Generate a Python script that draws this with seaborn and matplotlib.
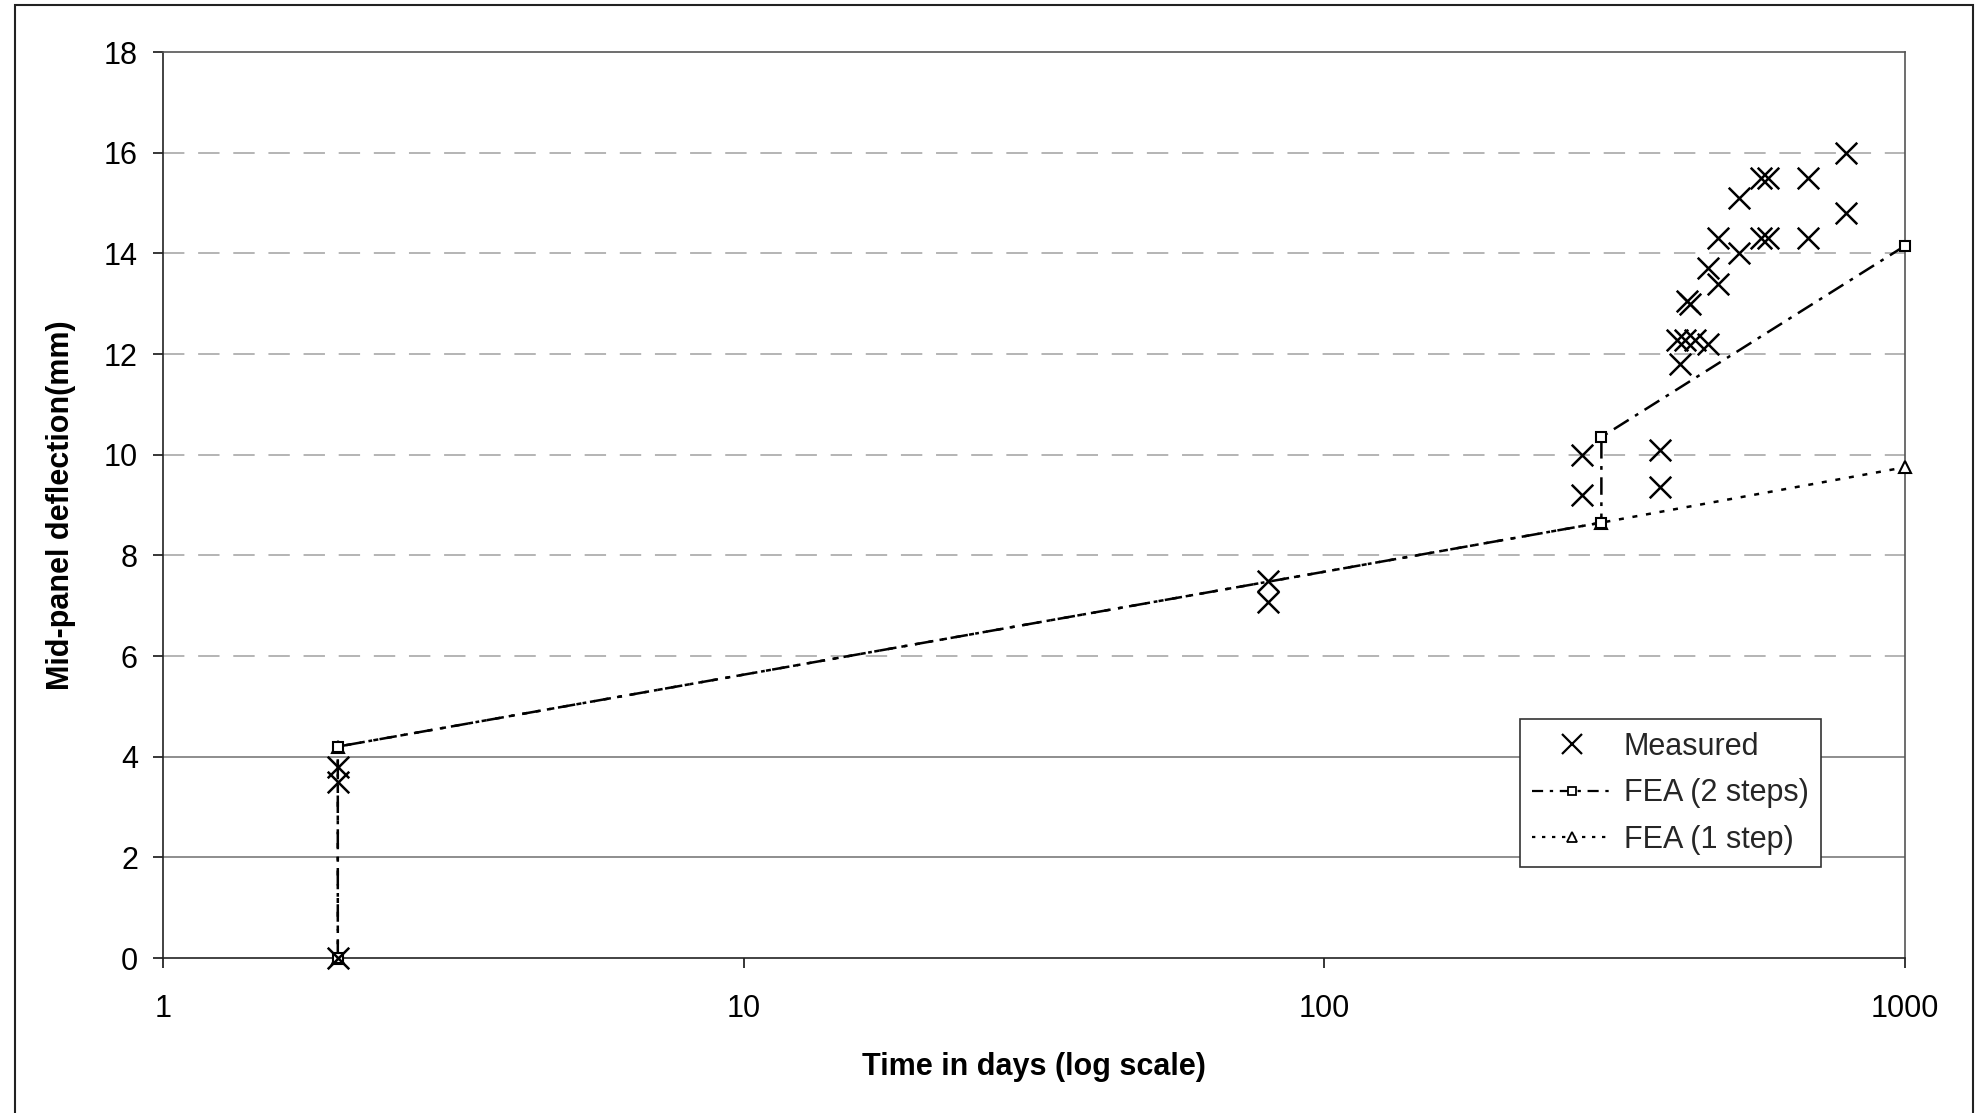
import matplotlib
matplotlib.use("Agg")
import matplotlib.pyplot as plt
from matplotlib.patches import Rectangle
from matplotlib.lines import Line2D
import seaborn as sns
import pandas as pd

# Measured mid-panel deflection (days, mm)
measured_days = [2, 2, 2, 80, 80, 278, 278, 378, 378,
                 405, 409, 418, 435, 458, 421, 427, 458, 476, 476,
                 517, 517, 565, 580, 565, 580, 680, 680, 790, 790]
measured_mm = [0.0, 3.5, 3.8, 7.5, 7.07, 10.0, 9.2, 10.1, 9.35,
               12.27, 11.8, 12.27, 12.27, 12.2, 13.06, 13.0, 13.7, 13.4, 14.3,
               15.1, 14.0, 15.5, 15.5, 14.3, 14.3, 15.5, 14.3, 16.0, 14.8]

# FEA predictions
fea2_days = [2, 2, 300, 300, 1000]
fea2_mm = [0.0, 4.2, 8.65, 10.35, 14.15]
fea1_days = [2, 2, 300, 1000]
fea1_mm = [0.0, 4.2, 8.65, 9.75]

y_ticks = [0, 2, 4, 6, 8, 10, 12, 14, 16, 18]
x_ticks = [1, 10, 100, 1000]
x_tick_labels = ["1", "10", "100", "1000"]

sns.set_theme(style="white")
plt.rcParams["font.family"] = ["Liberation Sans", "DejaVu Sans"]

fig = plt.figure(figsize=(19.78, 11.13), dpi=100)
ax = fig.add_axes([163 / 1978, 1 - 958 / 1113, (1905 - 163) / 1978, (958 - 52) / 1113])

# horizontal gridlines
for yv in y_ticks[1:-1]:
    if yv <= 4:
        ax.axhline(yv, color="#7a7a7a", lw=1.2, zorder=0)
    else:
        ax.axhline(yv, color="#a0a0a0", lw=1.1, ls=(0, (14, 9)), zorder=0)

df_meas = pd.DataFrame({"days": measured_days, "mm": measured_mm})
df_fea2 = pd.DataFrame({"days": fea2_days, "mm": fea2_mm})
df_fea1 = pd.DataFrame({"days": fea1_days, "mm": fea1_mm})

sns.lineplot(data=df_fea1, x="days", y="mm", ax=ax, sort=False, estimator=None,
             color="black", lw=1.8, linestyle=(0, (2, 3.5)), marker="^",
             markersize=8, markerfacecolor="white", markeredgecolor="black",
             markeredgewidth=1.5, zorder=3, clip_on=False)
sns.lineplot(data=df_fea2, x="days", y="mm", ax=ax, sort=False, estimator=None,
             color="black", lw=1.8, linestyle=(0, (7, 3, 1.5, 3)), marker="s",
             markersize=7, markerfacecolor="white", markeredgecolor="black",
             markeredgewidth=1.5, zorder=4, clip_on=False)
sns.scatterplot(data=df_meas, x="days", y="mm", ax=ax, marker="x", s=240,
                color="black", linewidth=1.8, zorder=5, clip_on=False)

ax.set_xscale("log")
ax.set_xlim(1, 1000)
ax.set_ylim(0, 18)
ax.set_xticks(x_ticks)
ax.set_xticklabels(x_tick_labels)
ax.xaxis.set_minor_locator(matplotlib.ticker.NullLocator())
ax.set_yticks(y_ticks)
ax.set_yticklabels([str(v) for v in y_ticks])
ax.tick_params(axis="both", which="major", direction="out", length=7,
               width=1.1, color="black", labelsize=22, labelcolor="black")
ax.tick_params(axis="y", pad=11)
ax.tick_params(axis="x", pad=19, bottom=True)
ax.tick_params(axis="y", left=True)

for side, sp in ax.spines.items():
    sp.set_visible(True)
    sp.set_linewidth(1.2)
    sp.set_color("#222222" if side in ("left", "bottom") else "#555555")

ax.set_xlabel("Time in days (log scale)", fontsize=22, fontweight="bold",
              labelpad=20, color="black")
ax.set_ylabel("Mid-panel deflection(mm)", fontsize=22, fontweight="bold",
              labelpad=20, color="black")

handles = [
    Line2D([], [], color="black", marker="x", linestyle="none",
           markersize=15, markeredgewidth=1.6),
    Line2D([], [], color="black", lw=1.6, linestyle=(0, (5, 3, 1.5, 3)),
           marker="s", markersize=6, markerfacecolor="white",
           markeredgecolor="black", markeredgewidth=1.3),
    Line2D([], [], color="black", lw=1.6, linestyle=(0, (1.5, 3)),
           marker="^", markersize=7, markerfacecolor="white",
           markeredgecolor="black", markeredgewidth=1.3),
]
leg = ax.legend(handles, ["Measured", "FEA (2 steps)", "FEA (1 step)"],
                loc="lower left", bbox_to_anchor=(0.779, 0.100),
                borderaxespad=0, fontsize=22, frameon=True, fancybox=False,
                handlelength=2.6, handletextpad=0.4, labelspacing=0.55,
                borderpad=0.4)
leg.get_frame().set_edgecolor("#333333")
leg.get_frame().set_linewidth(1.2)
leg.get_frame().set_facecolor("white")
leg.get_frame().set_alpha(1)

# outer chart border
fig.patches.append(Rectangle((15 / 1978, -0.02), (1973 - 15) / 1978, 1.02 - 5 / 1113,
                             transform=fig.transFigure, fill=False,
                             edgecolor="#222222", lw=1.5))

fig.savefig("out.png", dpi=100, facecolor="white")
